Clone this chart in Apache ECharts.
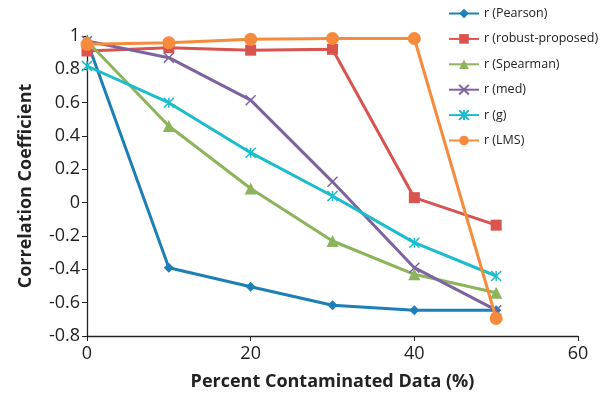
<!DOCTYPE html>
<html><head><meta charset="utf-8">
<script src="https://cdn.jsdelivr.net/npm/echarts@6/dist/echarts.min.js"></script>
<style>html,body{margin:0;padding:0;background:#fff}#c{width:614px;height:394px}</style>
</head><body><div id="c"></div>
<script>
const xValues = [0, 10, 20, 30, 40, 50];
const seriesNames = ['r (Pearson)', 'r (robust-proposed)', 'r (Spearman)', 'r (med)', 'r (g)', 'r (LMS)'];
const pearson = [0.97, -0.39, -0.505, -0.615, -0.645, -0.645];
const robust = [0.91, 0.93, 0.915, 0.92, 0.03, -0.135];
const spearman = [0.97, 0.46, 0.085, -0.23, -0.43, -0.54];
const med = [0.97, 0.87, 0.615, 0.125, -0.39, -0.645];
const gCorr = [0.82, 0.6, 0.3, 0.04, -0.24, -0.44];
const lms = [0.95, 0.96, 0.98, 0.985, 0.985, -0.695];
const colors = ['#1c7fb6', '#d9534f', '#8cb45a', '#7e63a0', '#1bbccc', '#f68b3c'];

const xMark = 'path://M0,0L10,10M10,0L0,10';
const starMark = 'path://M0,0L10,10M10,0L0,10M5,0L5,10';
const symbols = ['diamond', 'rect', 'triangle', xMark, starMark, 'circle'];
const sizes = [10, 11, 12, 10, 10, 13];
const allData = [pearson, robust, spearman, med, gCorr, lms];

const series = allData.map((vals, i) => {
  const stroke = i === 3 || i === 4;
  return {
    name: seriesNames[i],
    type: 'line',
    data: vals.map((v, j) => [xValues[j], v]),
    smooth: false,
    symbol: symbols[i],
    symbolSize: sizes[i],
    showSymbol: true,
    lineStyle: { color: colors[i], width: 3 },
    itemStyle: stroke ? { color: 'rgba(0,0,0,0)', borderColor: colors[i], borderWidth: 1.5 } : { color: colors[i] },
    emphasis: { disabled: true },
    z: 2 + i
  };
});

const chart = echarts.init(document.getElementById('c'));
chart.setOption({
  animation: false,
  textStyle: { fontFamily: 'Open Sans' },
  grid: { left: 87, top: 36, width: 491, height: 300, containLabel: false, outerBoundsMode: 'none' },
  legend: {
    orient: 'vertical', left: 443, top: 2, itemWidth: 30, itemHeight: 12, itemGap: 12.4,
    textStyle: { fontSize: 12.5, color: '#222', fontFamily: 'Open Sans' },
    data: seriesNames
  },
  xAxis: {
    type: 'value', min: 0, max: 60, interval: 20,
    name: 'Percent Contaminated Data (%)', nameLocation: 'middle', nameGap: 37,
    nameTextStyle: { fontSize: 18, fontWeight: 'bold', color: '#222', fontFamily: 'Open Sans' },
    axisLine: { onZero: false, lineStyle: { color: '#222', width: 1.3 } },
    axisTick: { show: true, length: 5, lineStyle: { color: '#222' } },
    axisLabel: { fontSize: 18, color: '#222', margin: 9 },
    splitLine: { show: false }
  },
  yAxis: {
    type: 'value', min: -0.8, max: 1, interval: 0.2,
    name: 'Correlation Coefficient', nameLocation: 'middle', nameGap: 52,
    nameTextStyle: { fontSize: 18, fontWeight: 'bold', color: '#222', fontFamily: 'Open Sans' },
    axisLine: { show: true, onZero: false, lineStyle: { color: '#222', width: 1.3 } },
    axisTick: { show: true, length: 5, lineStyle: { color: '#222' } },
    axisLabel: { fontSize: 18, color: '#222', margin: 7, formatter: v => String(Math.round(v * 10) / 10) },
    splitLine: { show: false }
  },
  series: series
});
</script></body></html>
